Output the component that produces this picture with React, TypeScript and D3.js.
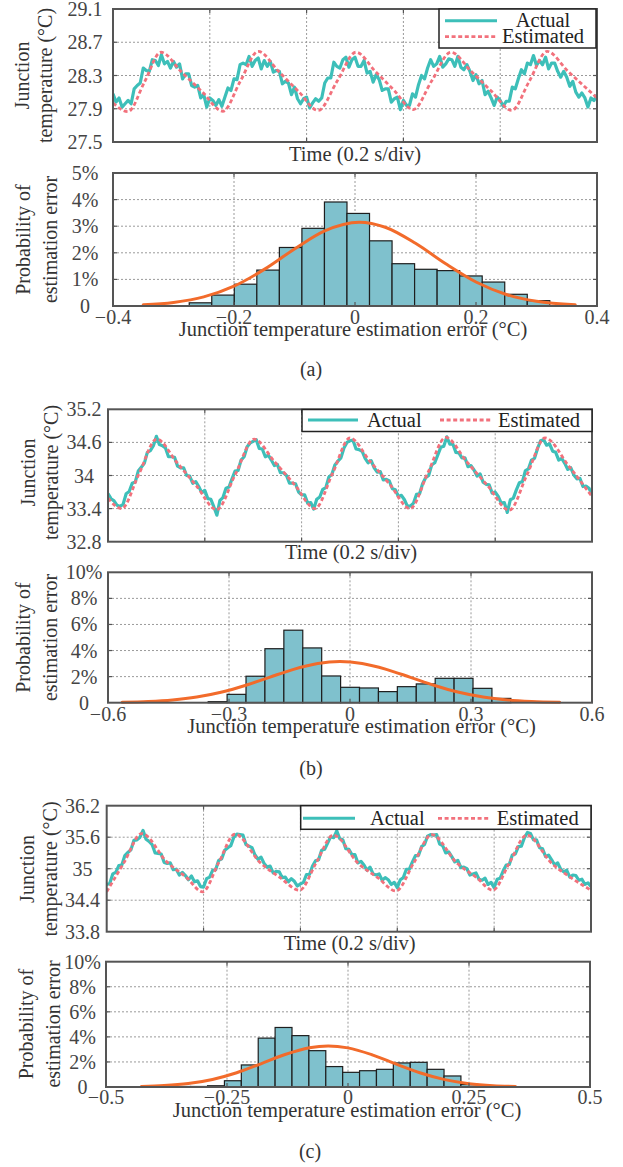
import React from "react";
import * as d3 from "d3";

const FONT = '"Liberation Serif", "Times New Roman", Times, serif';
const TEXT = "#333";
const FRAME = "#555";
const GRID = "#9a9a9a";
const ACTUAL_C = "#3dbfb9";
const EST_C = "#f2717c";
const BAR_C = "#7fc1cd";
const FIT_C = "#f26b2b";

// ---------------- shared
const timeDivs = [0, 0.2, 0.4, 0.6, 0.8, 1.0];
const legendLabels = ["Actual", "Estimated"];
const timeTitle = "Time (0.2 s/div)";
const tempTitle = ["Junction", "temperature (°C)"];
const probTitle = ["Probability of", "estimation error"];
const errTitle = "Junction temperature estimation error (°C)";

// ---------------- (a)
const tempTicksA = [27.5, 27.9, 28.3, 28.7, 29.1];
const actualA = [
  28.08, 27.98, 28.03, 27.92, 27.96,
  28.00, 27.96, 28.14, 28.18, 28.21, 28.39, 28.36, 28.35, 28.49, 28.48, 28.42, 28.55, 28.44, 28.47, 28.39, 28.47, 28.40, 28.44, 28.26, 28.32, 28.32, 28.18, 28.16, 28.18, 28.03, 28.07, 27.92, 28.03, 28.00, 27.94, 28.01,
  27.93, 28.04, 28.15, 28.12, 28.26, 28.25, 28.43, 28.45, 28.43, 28.53, 28.41, 28.48, 28.51, 28.38, 28.48, 28.41, 28.47, 28.34, 28.36, 28.35, 28.20, 28.23, 28.21, 28.07, 28.16, 28.02, 27.96, 28.02, 28.04, 27.91, 27.97,
  28.02, 27.99, 28.03, 28.21, 28.27, 28.27, 28.46, 28.41, 28.39, 28.49, 28.52, 28.40, 28.49, 28.52, 28.41, 28.41, 28.48, 28.33, 28.35, 28.22, 28.31, 28.25, 28.12, 28.14, 28.14, 27.98, 28.02, 28.04, 27.89, 28.00, 27.94,
  27.94, 28.08, 28.04, 28.19, 28.30, 28.26, 28.39, 28.49, 28.41, 28.44, 28.53, 28.40, 28.44, 28.50, 28.49, 28.41, 28.53, 28.40, 28.37, 28.43, 28.35, 28.24, 28.31, 28.20, 28.24, 28.07, 28.11, 28.03, 27.94, 28.04, 28.00, 27.93, 27.99,
  27.99, 28.16, 28.14, 28.26, 28.37, 28.32, 28.45, 28.43, 28.54, 28.42, 28.48, 28.43, 28.52, 28.38, 28.45, 28.45, 28.35, 28.28, 28.35, 28.28, 28.17, 28.23, 28.10, 28.04, 28.09, 28.03, 27.92, 28.03, 28.00, 28.07,
];
const estimatedA = [
  [0, 27.97], [0.031, 27.865], [0.065, 28.22], [0.099, 28.58], [0.142, 28.34], [0.185, 28.1],
  [0.227, 27.87], [0.263, 28.23], [0.3, 28.59], [0.342, 28.35], [0.383, 28.11],
  [0.424, 27.88], [0.463, 28.23], [0.502, 28.58], [0.542, 28.35], [0.581, 28.12],
  [0.62, 27.89], [0.659, 28.24], [0.698, 28.58], [0.74, 28.35], [0.782, 28.11],
  [0.824, 27.88], [0.86, 28.23], [0.897, 28.59], [0.94, 28.35], [0.97, 28.19], [1.0, 28.03],
];
const errTicksA = [-0.4, -0.2, 0, 0.2, 0.4];
const probTicksA = [0, 1, 2, 3, 4, 5];
const binStartA = -0.274;
const binWidthA = 0.03725;
const histA = [0.12, 0.41, 0.82, 1.35, 2.2, 2.92, 3.91, 3.48, 2.45, 1.59, 1.38, 1.33, 1.13, 0.9, 0.44, 0.2];
const fitA = [
  [-0.35, 0.044], [-0.3, 0.133], [-0.25, 0.342], [-0.2, 0.746], [-0.15, 1.376], [-0.1, 2.144],
  [-0.05, 2.825], [0.007, 3.15], [0.05, 2.961], [0.1, 2.356], [0.15, 1.585], [0.2, 0.902],
  [0.25, 0.433], [0.3, 0.176], [0.364, 0.044],
];

// ---------------- (b)
const tempTicksB = [32.8, 33.4, 34, 34.6, 35.2];
const actualB = [
  33.67, 33.58, 33.54, 33.46,
  33.44, 33.48, 33.67, 33.71, 33.86, 33.88, 34.08, 34.15, 34.22, 34.42, 34.45, 34.54, 34.71, 34.56, 34.54, 34.50, 34.34, 34.34, 34.33, 34.17, 34.14, 34.14, 34.00, 33.99, 33.86, 33.89, 33.80, 33.69, 33.73, 33.58, 33.57, 33.43,
  33.28, 33.55, 33.60, 33.77, 33.79, 33.94, 34.08, 34.09, 34.28, 34.34, 34.52, 34.59, 34.62, 34.65, 34.49, 34.48, 34.34, 34.37, 34.28, 34.18, 34.20, 34.05, 34.05, 34.00, 33.86, 33.86, 33.85, 33.70, 33.65, 33.65, 33.50, 33.51,
  33.39, 33.57, 33.61, 33.75, 33.78, 33.97, 34.02, 34.19, 34.26, 34.32, 34.50, 34.60, 34.63, 34.64, 34.48, 34.47, 34.44, 34.31, 34.23, 34.27, 34.14, 34.06, 34.07, 33.92, 33.93, 33.90, 33.76, 33.74, 33.62, 33.64, 33.56, 33.44,
  33.45, 33.50, 33.66, 33.67, 33.85, 33.96, 34.00, 34.19, 34.23, 34.37, 34.51, 34.53, 34.70, 34.57, 34.57, 34.42, 34.41, 34.32, 34.32, 34.16, 34.18, 34.10, 33.99, 34.03, 33.88, 33.84, 33.83, 33.68, 33.70, 33.62, 33.50, 33.51,
  33.33, 33.56, 33.59, 33.74, 33.87, 33.89, 34.09, 34.12, 34.28, 34.31, 34.49, 34.63, 34.65, 34.55, 34.57, 34.44, 34.42, 34.28, 34.31, 34.22, 34.11, 34.14, 34.01, 33.94, 33.95, 33.80, 33.81, 33.77, 33.65,
];
const estimatedB = [
  [0, 33.59], [0.028, 33.4], [0.064, 34.03], [0.1006, 34.66], [0.142, 34.24], [0.183, 33.81],
  [0.2246, 33.38], [0.263, 34.02], [0.3017, 34.66], [0.344, 34.25], [0.386, 33.83],
  [0.4277, 33.4], [0.464, 34.04], [0.5, 34.68], [0.541, 34.26], [0.583, 33.83],
  [0.624, 33.4], [0.661, 34.05], [0.6977, 34.69], [0.741, 34.25], [0.785, 33.81],
  [0.829, 33.37], [0.866, 34.02], [0.903, 34.68], [0.952, 34.17], [1.0, 33.62],
];
const errTicksB = [-0.6, -0.3, 0, 0.3, 0.6];
const probTicksB = [0, 2, 4, 6, 8, 10];
const binStartB = -0.3516;
const binWidthB = 0.0469;
const histB = [0.08, 0.64, 2.03, 4.14, 5.56, 4.2, 2.05, 1.18, 1.13, 0.85, 1.23, 1.44, 1.87, 1.87, 1.1, 0.33];
const fitB = [
  [-0.565, 0.032], [-0.5, 0.09], [-0.44, 0.208], [-0.38, 0.431], [-0.32, 0.798], [-0.26, 1.318],
  [-0.2, 1.943], [-0.14, 2.557], [-0.08, 3.003], [-0.025, 3.15], [0.03, 3.003], [0.09, 2.557],
  [0.15, 1.943], [0.21, 1.318], [0.27, 0.798], [0.33, 0.431], [0.39, 0.208], [0.45, 0.09], [0.52, 0.029],
];

// ---------------- (c)
const tempTicksC = [33.8, 34.4, 35, 35.6, 36.2];
const actualC = [
  34.70, 34.72, 34.90, 34.93, 35.06, 35.07, 35.25, 35.31, 35.36, 35.54, 35.55, 35.60, 35.73, 35.56, 35.52, 35.46, 35.30, 35.29, 35.28, 35.12, 35.10, 35.11, 34.98, 34.99, 34.88, 34.93, 34.87, 34.79, 34.86, 34.75, 34.77, 34.66,
  34.65, 34.81, 34.84, 34.97, 34.98, 35.16, 35.19, 35.35, 35.40, 35.44, 35.60, 35.66, 35.65, 35.64, 35.46, 35.43, 35.40, 35.26, 35.18, 35.22, 35.10, 35.03, 35.05, 34.92, 34.95, 34.94, 34.83, 34.84, 34.75, 34.81, 34.76, 34.67,
  34.71, 34.74, 34.89, 34.89, 35.05, 35.15, 35.17, 35.35, 35.37, 35.49, 35.61, 35.59, 35.72, 35.57, 35.55, 35.38, 35.37, 35.27, 35.27, 35.11, 35.14, 35.07, 34.97, 35.03, 34.90, 34.88, 34.90, 34.78, 34.83, 34.79, 34.70, 34.74,
  34.64, 34.79, 34.83, 34.99, 34.99, 35.13, 35.25, 35.25, 35.42, 35.46, 35.62, 35.65, 35.64, 35.65, 35.47, 35.44, 35.30, 35.32, 35.23, 35.13, 35.16, 35.02, 35.03, 35.00, 34.88, 34.90, 34.92, 34.80, 34.78, 34.82, 34.70, 34.74,
  34.64, 34.80, 34.82, 34.96, 35.07, 35.08, 35.26, 35.28, 35.42, 35.43, 35.59, 35.69, 35.67, 35.55, 35.55, 35.40, 35.38, 35.23, 35.26, 35.17, 35.07, 35.11, 34.99, 34.94, 34.97, 34.84, 34.88, 34.87, 34.78, 34.80, 34.70, 34.73, 34.66,
];
const estimatedC = [
  [0, 34.56], [0.036, 35.12], [0.0723, 35.67], [0.124, 35.13], [0.165, 34.83],
  [0.198, 34.56], [0.231, 35.11], [0.2649, 35.66], [0.3165, 35.12], [0.358, 34.83],
  [0.398, 34.59], [0.433, 35.12], [0.4679, 35.64], [0.5195, 35.1], [0.561, 34.82],
  [0.597, 34.575], [0.634, 35.11], [0.671, 35.65], [0.7226, 35.11], [0.764, 34.83],
  [0.797, 34.59], [0.832, 35.12], [0.8672, 35.64], [0.919, 35.1], [0.96, 34.82], [1.0, 34.59],
];
const errTicksC = [-0.5, -0.25, 0, 0.25, 0.5];
const probTicksC = [0, 2, 4, 6, 8, 10];
const binStartC = -0.36;
const binWidthC = 0.0349;
const histC = [0.04, 0.04, 0.1, 0.5, 1.76, 3.9, 4.75, 4.1, 2.9, 1.63, 1.17, 1.3, 1.41, 1.92, 1.97, 1.41, 0.88, 0.2];
const fitC = [
  [-0.427, 0.04], [-0.38, 0.11], [-0.33, 0.277], [-0.28, 0.605], [-0.23, 1.14], [-0.18, 1.852],
  [-0.13, 2.595], [-0.08, 3.136], [-0.041, 3.28], [0.0, 3.121], [0.05, 2.567], [0.1, 1.821],
  [0.15, 1.115], [0.2, 0.588], [0.25, 0.268], [0.3, 0.105], [0.346, 0.039],
];

// ---------------- components
type Box = { l: number; r: number; t: number; b: number };

function YTitle({ lines, bx, cy }: { lines: string[]; bx: number[]; cy: number }) {
  return (
    <g>
      {lines.map((s, i) => (
        <text key={i} transform={`translate(${bx[i]},${cy}) rotate(-90)`} textAnchor="middle" fontSize={20} fill={TEXT}>
          {s}
        </text>
      ))}
    </g>
  );
}

function FrameAndTicks({ box, xs, ys }: { box: Box; xs: number[]; ys: number[] }) {
  const L = 4;
  return (
    <g stroke={FRAME} strokeWidth={1.2}>
      {xs.map((px, i) => (
        <g key={"x" + i}>
          <line x1={px} x2={px} y1={box.b} y2={box.b - L} />
          <line x1={px} x2={px} y1={box.t} y2={box.t + L} />
        </g>
      ))}
      {ys.map((py, i) => (
        <g key={"y" + i}>
          <line x1={box.l} x2={box.l + L} y1={py} y2={py} />
          <line x1={box.r} x2={box.r - L} y1={py} y2={py} />
        </g>
      ))}
      <rect x={box.l} y={box.t} width={box.r - box.l} height={box.b - box.t} fill="none" strokeWidth={2} />
    </g>
  );
}

function Grid({ box, xs, ys }: { box: Box; xs: number[]; ys: number[] }) {
  return (
    <g stroke={GRID} strokeWidth={1} strokeDasharray="2 2">
      {xs.map((px, i) => (
        <line key={"gx" + i} x1={px} x2={px} y1={box.t} y2={box.b} />
      ))}
      {ys.map((py, i) => (
        <line key={"gy" + i} x1={box.l} x2={box.r} y1={py} y2={py} />
      ))}
    </g>
  );
}

type LegendSpec =
  | { kind: "v"; x: number; y: number; w: number; h: number; sx1: number; sx2: number; rows: number[]; bases: number[]; tcx: number }
  | { kind: "h"; x: number; y: number; w: number; h: number; s1: number[]; t1: number; s2: number[]; t2: number; ly: number; base: number };

function Legend({ spec }: { spec: LegendSpec }) {
  if (spec.kind === "v") {
    return (
      <g>
        <rect x={spec.x} y={spec.y} width={spec.w} height={spec.h} fill="#fff" stroke="#222" strokeWidth={1.5} />
        <line x1={spec.sx1} x2={spec.sx2} y1={spec.rows[0]} y2={spec.rows[0]} stroke={ACTUAL_C} strokeWidth={3} />
        <line x1={spec.sx1} x2={spec.sx2} y1={spec.rows[1]} y2={spec.rows[1]} stroke={EST_C} strokeWidth={2.8} strokeDasharray="4 2.6" />
        <text x={spec.tcx} y={spec.bases[0]} textAnchor="middle" fontSize={20.5} fill="#222">{legendLabels[0]}</text>
        <text x={spec.tcx} y={spec.bases[1]} textAnchor="middle" fontSize={20.5} fill="#222">{legendLabels[1]}</text>
      </g>
    );
  }
  return (
    <g>
      <rect x={spec.x} y={spec.y} width={spec.w} height={spec.h} fill="#fff" stroke="#222" strokeWidth={1.5} />
      <line x1={spec.s1[0]} x2={spec.s1[1]} y1={spec.ly} y2={spec.ly} stroke={ACTUAL_C} strokeWidth={3} />
      <text x={spec.t1} y={spec.base} fontSize={20.5} fill="#222">{legendLabels[0]}</text>
      <line x1={spec.s2[0]} x2={spec.s2[1]} y1={spec.ly} y2={spec.ly} stroke={EST_C} strokeWidth={2.8} strokeDasharray="4 2.6" />
      <text x={spec.t2} y={spec.base} fontSize={20.5} fill="#222">{legendLabels[1]}</text>
    </g>
  );
}

type TimeProps = {
  id: string;
  box: Box;
  yTicks: number[];
  actual: number[];
  estimated: number[][];
  tickCx: number;
  titleBx: number[];
  titleCy: number;
  xTitle: { cx: number; base: number };
  legend: LegendSpec;
};

function TimePanel(p: TimeProps) {
  const { box, yTicks } = p;
  const tEnd = timeDivs[timeDivs.length - 1];
  const x = d3.scaleLinear().domain([timeDivs[0], tEnd]).range([box.l, box.r]);
  const y = d3.scaleLinear().domain([yTicks[0], yTicks[yTicks.length - 1]]).range([box.b, box.t]);
  const n = p.actual.length;
  const aPath = d3
    .line<number>()
    .x((_, i) => x((i / (n - 1)) * tEnd))
    .y((d) => y(d))(p.actual) as string;
  const ePath = d3
    .line<number[]>()
    .x((d) => x(d[0]))
    .y((d) => y(d[1]))
    .curve(d3.curveMonotoneX)(p.estimated) as string;
  const gx = timeDivs.slice(1, -1).map((t) => x(t));
  const gy = yTicks.slice(1, -1).map((v) => y(v));
  return (
    <g>
      <defs>
        <clipPath id={p.id}>
          <rect x={box.l} y={box.t} width={box.r - box.l} height={box.b - box.t} />
        </clipPath>
      </defs>
      <Grid box={box} xs={gx} ys={gy} />
      <g clipPath={`url(#${p.id})`}>
        <path d={aPath} fill="none" stroke={ACTUAL_C} strokeWidth={3.2} strokeLinejoin="round" />
        <path d={ePath} fill="none" stroke={EST_C} strokeWidth={2.8} strokeDasharray="4 2.6" />
      </g>
      <FrameAndTicks box={box} xs={gx} ys={gy} />
      <Legend spec={p.legend} />
      {yTicks.map((v, i) => (
        <text key={i} x={p.tickCx} y={y(v)} dy="0.35em" textAnchor="middle" fontSize={20} fill="#444">
          {String(v)}
        </text>
      ))}
      <text x={p.xTitle.cx} y={p.xTitle.base} textAnchor="middle" fontSize={20.5} fill={TEXT}>
        {timeTitle}
      </text>
      <YTitle lines={tempTitle} bx={p.titleBx} cy={p.titleCy} />
    </g>
  );
}

type HistProps = {
  box: Box;
  xTicks: number[];
  yTicks: number[];
  binStart: number;
  binWidth: number;
  values: number[];
  fit: number[][];
  tickCx: number;
  xLabelBase: number;
  titleBx: number[];
  titleCy: number;
  xTitle: { cx: number; base: number };
};

const fmtErr = (v: number) => (v < 0 ? "\u2212" + String(Math.abs(v)) : String(v));
const fmtProb = (v: number) => (v === 0 ? "0" : v + "%");

function HistPanel(p: HistProps) {
  const { box } = p;
  const x = d3.scaleLinear().domain([p.xTicks[0], p.xTicks[p.xTicks.length - 1]]).range([box.l, box.r]);
  const y = d3.scaleLinear().domain([p.yTicks[0], p.yTicks[p.yTicks.length - 1]]).range([box.b, box.t]);
  const fitPath = d3
    .line<number[]>()
    .x((d) => x(d[0]))
    .y((d) => y(d[1]))
    .curve(d3.curveMonotoneX)(p.fit) as string;
  const gx = p.xTicks.slice(1, -1).map((v) => x(v));
  const gy = p.yTicks.slice(1, -1).map((v) => y(v));
  return (
    <g>
      <Grid box={box} xs={gx} ys={gy} />
      <g>
        {p.values.map((v, i) => {
          const x0 = x(p.binStart + i * p.binWidth);
          const x1 = x(p.binStart + (i + 1) * p.binWidth);
          return (
            <rect key={i} x={x0} y={y(v)} width={x1 - x0} height={y(0) - y(v)} fill={BAR_C} stroke="#1e1e1e" strokeWidth={1.2} />
          );
        })}
      </g>
      <path d={fitPath} fill="none" stroke={FIT_C} strokeWidth={3} strokeLinecap="round" />
      <FrameAndTicks box={box} xs={gx} ys={gy} />
      {p.yTicks.map((v, i) => (
        <text key={"y" + i} x={p.tickCx} y={y(v)} dy="0.35em" textAnchor="middle" fontSize={20} fill="#444">
          {fmtProb(v)}
        </text>
      ))}
      {p.xTicks.map((v, i) => (
        <text key={"x" + i} x={x(v)} y={p.xLabelBase} textAnchor="middle" fontSize={20} fill="#444">
          {fmtErr(v)}
        </text>
      ))}
      <text x={p.xTitle.cx} y={p.xTitle.base} textAnchor="middle" fontSize={20.5} fill={TEXT}>
        {errTitle}
      </text>
      <YTitle lines={probTitle} bx={p.titleBx} cy={p.titleCy} />
    </g>
  );
}

export default function App() {
  return (
    <svg
      width={623}
      height={1167}
      viewBox="0 0 623 1167"
      style={{ position: "absolute", left: 0, top: 0, background: "#fff" }}
      fontFamily={FONT}
    >
      <rect x={0} y={0} width={623} height={1167} fill="#fff" />
      {/* (a) */}
      <TimePanel
        id="clipA"
        box={{ l: 113, r: 597, t: 9, b: 142 }}
        yTicks={tempTicksA}
        actual={actualA}
        estimated={estimatedA}
        tickCx={85}
        titleBx={[29, 51.5]}
        titleCy={75.5}
        xTitle={{ cx: 355, base: 160.5 }}
        legend={{ kind: "v", x: 439, y: 9, w: 157, h: 39, sx1: 445, sx2: 497, rows: [20.7, 36.7], bases: [27, 42.5], tcx: 543 }}
      />
      <HistPanel
        box={{ l: 113, r: 597, t: 173, b: 306 }}
        xTicks={errTicksA}
        yTicks={probTicksA}
        binStart={binStartA}
        binWidth={binWidthA}
        values={histA}
        fit={fitA}
        tickCx={85}
        xLabelBase={324}
        titleBx={[30, 56.5]}
        titleCy={239.5}
        xTitle={{ cx: 353, base: 336 }}
      />
      <text x={311} y={376} textAnchor="middle" fontSize={20} fill={TEXT}>(a)</text>

      {/* (b) */}
      <TimePanel
        id="clipB"
        box={{ l: 108, r: 592, t: 409.3, b: 541.7 }}
        yTicks={tempTicksB}
        actual={actualB}
        estimated={estimatedB}
        tickCx={84}
        titleBx={[35, 57.5]}
        titleCy={472.5}
        xTitle={{ cx: 351, base: 558.5 }}
        legend={{ kind: "h", x: 302, y: 409.5, w: 290, h: 22, s1: [308, 358], t1: 367, s2: [440, 492], t2: 498, ly: 420, base: 426.5 }}
      />
      <HistPanel
        box={{ l: 108, r: 592, t: 572.3, b: 702.7 }}
        xTicks={errTicksB}
        yTicks={probTicksB}
        binStart={binStartB}
        binWidth={binWidthB}
        values={histB}
        fit={fitB}
        tickCx={84}
        xLabelBase={721}
        titleBx={[30, 57]}
        titleCy={637.5}
        xTitle={{ cx: 361.5, base: 733 }}
      />
      <text x={311} y={775} textAnchor="middle" fontSize={20} fill={TEXT}>(b)</text>

      {/* (c) */}
      <TimePanel
        id="clipC"
        box={{ l: 106.7, r: 591, t: 805.7, b: 931.7 }}
        yTicks={tempTicksC}
        actual={actualC}
        estimated={estimatedC}
        tickCx={82.5}
        titleBx={[34, 57]}
        titleCy={869}
        xTitle={{ cx: 349.7, base: 950 }}
        legend={{ kind: "h", x: 300.7, y: 805.7, w: 290.3, h: 23.6, s1: [303, 355], t1: 370, s2: [438, 490], t2: 496.7, ly: 818.3, base: 824.5 }}
      />
      <HistPanel
        box={{ l: 106, r: 590, t: 961.7, b: 1087 }}
        xTicks={errTicksC}
        yTicks={probTicksC}
        binStart={binStartC}
        binWidth={binWidthC}
        values={histC}
        fit={fitC}
        tickCx={82.5}
        xLabelBase={1104}
        titleBx={[33, 60]}
        titleCy={1024}
        xTitle={{ cx: 347, base: 1117 }}
      />
      <text x={310} y={1158} textAnchor="middle" fontSize={20} fill={TEXT}>(c)</text>
    </svg>
  );
}
